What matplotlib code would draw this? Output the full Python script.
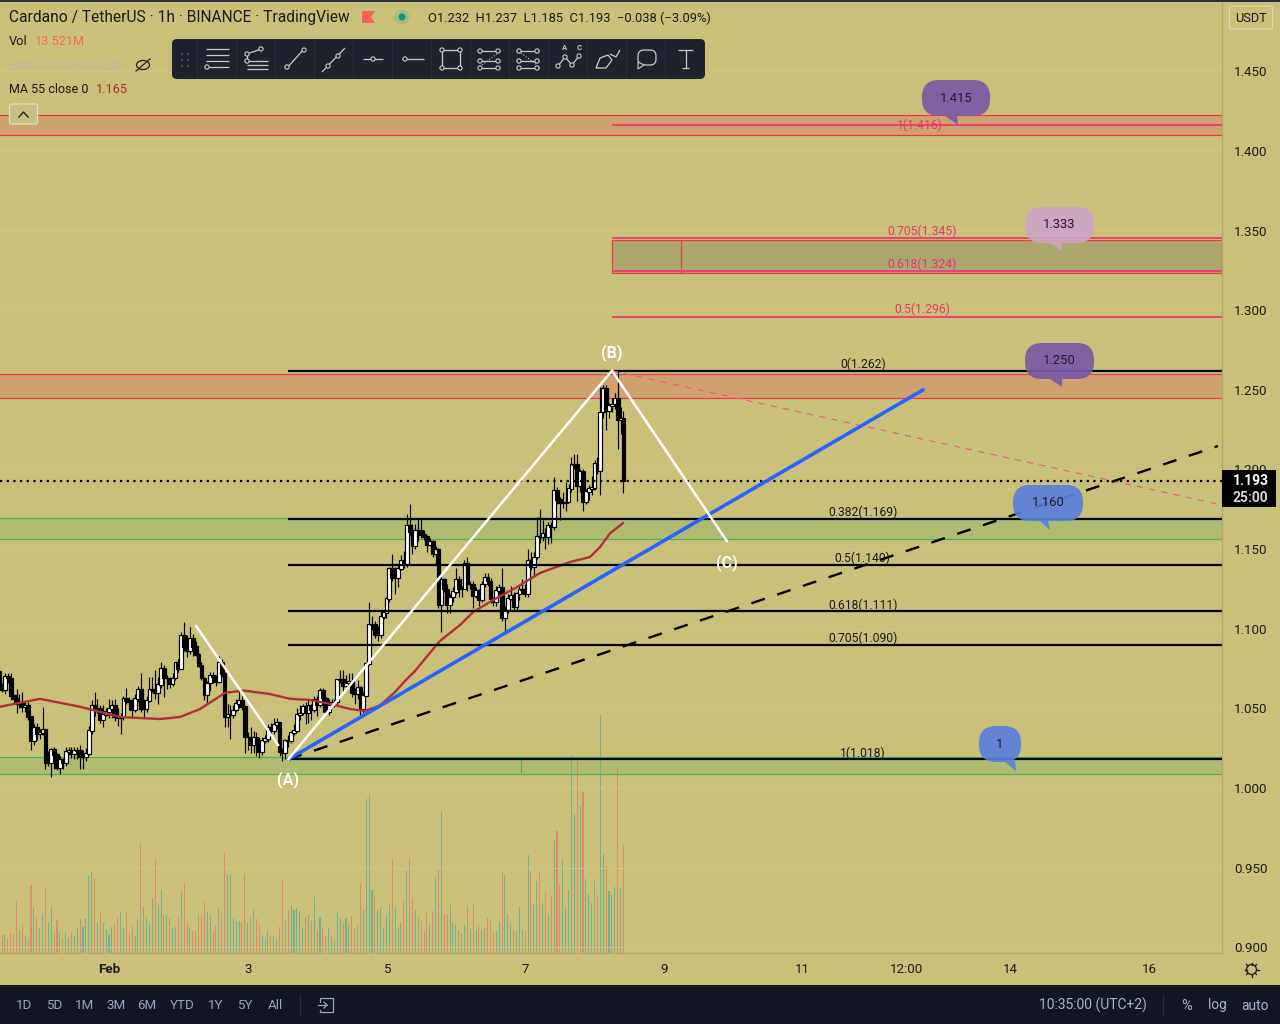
import matplotlib
matplotlib.use("Agg")
import matplotlib.pyplot as plt
import numpy as np
from matplotlib.patches import FancyBboxPatch, Rectangle, Polygon, Circle, Ellipse

plt.rcParams['font.family'] = ['Roboto', 'DejaVu Sans']

# ---------- data ----------
first_hour = -38            # hours from 1 Feb 00:00
first_open = 1.073
closes = [
 1.063,1.062,1.070,1.069,1.058,1.056,1.053,1.0535,1.051,1.052,
 1.045,1.030,1.038,1.034,1.035,1.037,1.016,1.016,1.024,1.021,
 1.013,1.018,1.016,1.023,1.0235,1.0215,1.0235,1.0235,1.0195,1.0195,
 1.0215,1.036,1.052,1.050,1.050,1.043,1.046,1.048,1.050,1.052,
 1.045,1.044,1.045,1.056,1.055,1.054,1.049,1.056,1.062,1.050,
 1.050,1.055,1.062,1.062,1.060,1.065,1.075,1.069,1.069,1.0655,
 1.069,1.079,1.075,1.096,1.089,1.086,1.094,1.089,1.084,1.077,
 1.069,1.0585,1.066,1.071,1.070,1.067,1.079,1.072,1.045,1.046,
 1.046,1.049,1.053,1.055,1.051,1.032,1.032,1.027,1.032,1.027,
 1.023,1.030,1.031,1.038,1.036,1.040,1.041,1.023,1.022,1.030,
 1.0295,1.035,1.036,1.046,1.047,1.051,1.047,1.052,1.049,1.0555,
 1.0525,1.0615,1.0565,1.048,1.052,1.054,1.054,1.068,1.068,1.064,
 1.066,1.067,1.060,1.059,1.063,1.050,1.058,1.078,1.1025,1.1025,
 1.096,1.096,1.1078,1.110,1.119,1.138,1.132,1.132,1.138,1.143,
 1.141,1.165,1.161,1.152,1.162,1.162,1.159,1.158,1.153,1.155,
 1.147,1.150,1.115,1.131,1.125,1.115,1.120,1.1235,1.131,1.125,
 1.125,1.141,1.128,1.128,1.121,1.124,1.118,1.128,1.132,1.130,
 1.119,1.117,1.124,1.126,1.107,1.112,1.119,1.121,1.114,1.122,
 1.1245,1.125,1.122,1.143,1.139,1.145,1.158,1.1575,1.160,1.158,
 1.165,1.164,1.187,1.181,1.179,1.179,1.1795,1.188,1.203,1.2035,
 1.190,1.199,1.180,1.186,1.188,1.1885,1.204,1.199,1.236,1.251,
 1.237,1.240,1.241,1.2447,1.231,1.232,1.193]
highs = [
 1.077,1.066,1.072,1.0725,1.072,1.059,1.062,1.059,1.060,1.054,
 1.054,1.045,1.040,1.041,1.037,1.051,1.037,1.023,1.025,1.026,
 1.022,1.020,1.019,1.026,1.026,1.026,1.026,1.026,1.027,1.024,
 1.025,1.039,1.055,1.060,1.056,1.052,1.052,1.050,1.056,1.055,
 1.056,1.050,1.047,1.058,1.063,1.057,1.056,1.059,1.064,1.072,
 1.056,1.058,1.070,1.070,1.074,1.070,1.079,1.077,1.071,1.070,
 1.072,1.079,1.081,1.098,1.104,1.096,1.101,1.097,1.092,1.085,
 1.079,1.070,1.067,1.073,1.073,1.071,1.083,1.081,1.073,1.053,
 1.052,1.052,1.056,1.062,1.058,1.052,1.035,1.038,1.036,1.035,
 1.032,1.032,1.033,1.040,1.041,1.044,1.044,1.041,1.025,1.031,
 1.033,1.036,1.040,1.050,1.052,1.053,1.054,1.056,1.053,1.058,
 1.058,1.063,1.063,1.057,1.056,1.056,1.056,1.068,1.074,1.074,
 1.071,1.072,1.072,1.063,1.068,1.064,1.060,1.079,1.117,1.108,
 1.105,1.102,1.111,1.112,1.120,1.139,1.147,1.139,1.140,1.146,
 1.149,1.172,1.178,1.166,1.166,1.169,1.169,1.162,1.159,1.157,
 1.156,1.152,1.151,1.133,1.132,1.128,1.122,1.126,1.138,1.133,
 1.127,1.143,1.145,1.130,1.130,1.126,1.125,1.130,1.135,1.135,
 1.132,1.120,1.127,1.128,1.138,1.114,1.122,1.127,1.123,1.123,
 1.127,1.131,1.128,1.150,1.148,1.148,1.170,1.175,1.168,1.163,
 1.167,1.167,1.195,1.189,1.183,1.186,1.192,1.191,1.208,1.210,
 1.210,1.200,1.200,1.188,1.190,1.196,1.206,1.208,1.252,1.253,
 1.253,1.242,1.245,1.248,1.262,1.239,1.237]
lows = [
 1.061,1.060,1.059,1.066,1.055,1.053,1.047,1.050,1.048,1.048,
 1.043,1.024,1.027,1.030,1.031,1.033,1.012,1.014,1.007,1.012,
 1.011,1.009,1.012,1.014,1.021,1.019,1.018,1.018,1.012,1.012,
 1.017,1.021,1.034,1.045,1.047,1.041,1.038,1.045,1.044,1.044,
 1.042,1.039,1.034,1.043,1.053,1.049,1.044,1.048,1.054,1.048,
 1.044,1.048,1.054,1.060,1.056,1.053,1.063,1.057,1.062,1.063,
 1.064,1.068,1.073,1.075,1.086,1.082,1.084,1.083,1.083,1.076,
 1.068,1.055,1.053,1.061,1.066,1.064,1.066,1.070,1.038,1.038,
 1.031,1.044,1.048,1.050,1.049,1.022,1.024,1.022,1.022,1.020,
 1.019,1.021,1.028,1.029,1.033,1.034,1.037,1.020,1.017,1.018,
 1.026,1.028,1.033,1.035,1.043,1.046,1.040,1.041,1.043,1.048,
 1.045,1.051,1.048,1.047,1.046,1.050,1.051,1.052,1.066,1.061,
 1.062,1.064,1.057,1.053,1.056,1.046,1.047,1.058,1.077,1.099,
 1.094,1.092,1.094,1.106,1.107,1.117,1.130,1.122,1.126,1.137,
 1.138,1.139,1.158,1.147,1.150,1.155,1.157,1.156,1.148,1.152,
 1.145,1.140,1.113,1.098,1.123,1.110,1.110,1.117,1.122,1.120,
 1.120,1.126,1.124,1.125,1.113,1.119,1.114,1.117,1.126,1.127,
 1.116,1.114,1.114,1.122,1.105,1.098,1.110,1.118,1.112,1.112,
 1.118,1.122,1.120,1.120,1.137,1.133,1.144,1.154,1.155,1.150,
 1.153,1.154,1.162,1.178,1.168,1.176,1.174,1.180,1.186,1.200,
 1.180,1.186,1.174,1.178,1.181,1.184,1.187,1.197,1.184,1.232,
 1.225,1.232,1.236,1.238,1.213,1.222,1.185]
volumes_m = [
 2.2,2.2,1.9,2.5,2.3,6.5,2.9,3.5,2.2,1.8,8.5,5.6,4.4,3.1,4.9,8.0,3.9,5.8,2.5,4.1,
 2.5,1.9,2.6,1.9,2.5,2.1,3.3,4.2,3.3,4.4,9.6,10.1,9.4,3.8,5.1,3.8,2.9,2.3,3.3,3.8,
 4.4,5.1,3.3,5.1,2.5,3.5,2.1,4.3,13.6,5.8,4.4,3.8,6.9,11.7,6.0,7.9,4.8,4.8,4.4,3.1,
 3.3,4.4,7.8,8.7,3.8,3.2,2.7,2.7,4.7,4.6,6.5,5.1,4.8,2.7,3.4,5.6,5.0,12.5,9.7,9.7,
 4.4,4.0,4.0,3.8,9.9,3.8,4.4,5.4,4.3,3.5,2.3,1.7,2.7,2.1,2.1,1.8,3.3,9.3,4.0,5.4,
 6.0,5.4,5.6,5.2,3.1,4.5,4.8,4.0,7.0,2.7,4.5,3.1,2.3,3.1,2.3,1.5,5.1,4.4,3.8,4.4,
 3.5,4.6,3.1,3.4,8.8,5.4,19.2,19.7,7.9,7.2,5.4,5.6,3.1,4.9,6.0,11.8,5.8,3.3,3.7,6.5,
 10.3,11.7,6.9,5.4,4.5,4.0,2.7,5.0,3.5,5.3,9.5,10.4,17.6,4.9,4.7,6.0,3.8,3.5,2.9,2.5,
 3.5,5.9,3.0,6.2,2.9,3.5,2.9,3.1,4.4,4.1,2.5,2.7,3.9,10.1,9.7,4.9,3.8,2.9,2.7,5.8,
 3.0,2.7,12.2,10.0,6.0,9.0,10.1,6.3,7.6,4.8,7.1,14.0,15.2,8.5,11.8,5.8,7.9,
 24.8,17.4,24.0,18.4,20.1,9.3,7.4,6.2,9.0,7.2,29.8,12.4,10.8,7.7,7.3,8.3,23.3,8.1,13.5]
ma_hours = [-37.7,-23.9,-10,3.8,17.6,24.6,31.5,40.1,46.4,55.7,62.6,69.6,76.5,83.4,88.6,93.8,
            99,102.4,105.9,111,114.5,121.5,126,132.9,141.2,149.1,159.5,166.4,169.9,173.4,177.9]
ma_values = [1.051,1.056,1.051,1.0446,1.0433,1.0446,1.0496,1.0597,1.0612,1.059,1.056,1.0553,1.0528,
             1.0496,1.0484,1.0518,1.0603,1.0672,1.0735,1.0848,1.0923,1.1024,1.1105,1.118,1.1262,
             1.135,1.1419,1.145,1.1513,1.160,1.1664]
price_ticks = [0.90,0.95,1.00,1.05,1.10,1.15,1.20,1.25,1.30,1.35,1.40,1.45]
time_ticks = [0,48,96,144,192,240,276,312,360]
time_labels = ['Feb','3','5','7','9','11','12:00','14','16']
fib_black = [(0,1.262),(0.382,1.169),(0.5,1.140),(0.618,1.111),(0.705,1.090),(1,1.018)]
fib_pink = [(0.5,1.296),(0.618,1.3246),(0.705,1.3453),(1,1.416)]
fib_pink_text = ['1.296','1.324','1.345','1.416']
hA, hB, hC = 62, 174, 213.8
pA, pB, pC = 1.018, 1.262, 1.155
last_price = 1.193

# ---------- colours ----------
BG = '#C9C17A'; DARK = '#131722'; TB = '#1E222D'
UP = '#6FB08E'; DOWN = '#E0866A'
RED = '#F23645'; PINK = '#EE3D78'; GREEN = '#4CAF50'

# ---------- layout ----------
W, H = 1280, 1024
fig = plt.figure(figsize=(W/100, H/100), dpi=100, facecolor=BG)
ax = fig.add_axes([0, (H-953)/H, 1222/W, 953/H], facecolor=BG)
ax.set_xlim(-37.72, 385.1)
ax.set_ylim(0.8964, 1.49476)

hours = first_hour + np.arange(len(closes))
c = np.array(closes); hi = np.array(highs); lo = np.array(lows)
o = np.r_[first_open, c[:-1]]
up = c >= o

# volume pane on the same x scale
axv = fig.add_axes(ax.get_position(), facecolor='none', sharex=ax)
axv.set_ylim(0, 119.1)
axv.axis('off')
vh = hours[-len(volumes_m):]
vu = up[-len(volumes_m):]
axv.bar(vh, volumes_m, width=0.36, color=[UP if u else DOWN for u in vu], linewidth=0)
axv.set_zorder(0); ax.set_zorder(1); ax.patch.set_visible(False)
axv.patch.set_visible(False)

# zones
for top, bot, col, edge in [(1.4226,1.410,'#DA685D',RED),(1.2600,1.2450,'#DA685D',RED),
                            (1.1696,1.1564,'#7FB063',GREEN),(1.0195,1.0088,'#7FB063',GREEN)]:
    ax.axhspan(bot, top, color=col, alpha=0.35, lw=0, zorder=1)
    ax.axhline(top, color=edge, lw=0.85, zorder=1.2)
    ax.axhline(bot, color=edge, lw=0.85, zorder=1.2)

# grid
for p in price_ticks:
    ax.axhline(p, color='#CDC685', lw=0.7, zorder=0.5)

# candles
ax.vlines(hours, lo, hi, color='black', lw=0.85, zorder=3)
ax.bar(hours, np.abs(c-o)+0.0004, bottom=np.minimum(o,c)-0.0002, width=1.3,
       color=['white' if u else 'black' for u in up], edgecolor='black', linewidth=0.85, zorder=3.2)

# MA
ax.plot(ma_hours, ma_values, color='#B0303C', lw=1.7, zorder=3.5, solid_capstyle='round')

# Fibonacci levels
for lev, val in fib_black:
    ax.plot([hA, 385.1], [val, val], color='black', lw=1.6, zorder=4, solid_capstyle='butt')
    ax.text(260.8, val-0.0003, f'{lev}({val:.3f})', ha='center', va='bottom', fontsize=8.7,
            color='#1a1a1a', zorder=5)
# fib box (drawn first, pink levels on top)
ax.add_patch(Rectangle((hB,1.3234),385.1-hB,0.0204,facecolor='#ACA76E',edgecolor=RED,lw=0.85,zorder=2))
ax.plot([198,198],[1.3234,1.3438],color=RED,lw=0.85,zorder=2.5)
ax.plot([142.5,142.5],[1.0100,1.0195],color=GREEN,lw=0.8,zorder=2.5)
for (lev, val), label in zip(fib_pink, fib_pink_text):
    ax.plot([hB, 385.1], [val, val], color=PINK, lw=1.35, zorder=4, solid_capstyle='butt')
    x_txt, dy = (280.5, -0.0042) if lev == 1 else (281.3, 0.0003)
    ax.text(x_txt, val+dy, f'{lev}({label})', ha='center', va='bottom', fontsize=8.7,
            color='#E5356E', zorder=5)

# trend lines
ax.plot([hB, 385.1], [pB, 1.1777], color='#EE5A86', lw=0.9, ls=(0,(5,5)), zorder=4.5)
ax.plot([hA, hB], [pA, pB], color='#EE5A86', lw=0.9, ls=(0,(5,5)), zorder=4.2)
ax.plot([hA, 383.7], [pA, 1.2147], color='black', lw=1.7, ls=(0,(6,5.5)), zorder=4.5)
ax.plot([hA, 281.7], [pA, 1.250], color='#2962FF', lw=2.6, zorder=4.6, solid_capstyle='round')
ax.plot([hA, hB, hC], [pA, pB, pC], color='white', lw=1.8, zorder=5, solid_joinstyle='miter')
ax.plot([30.1, 58.5], [1.1017, 1.027], color='white', lw=1.8, zorder=5)
ax.axhline(last_price, color='black', lw=1.6, ls=(0,(1,2)), zorder=4)

for txt, x, y in [('(A)', hA, 1.0053), ('(B)', hB, 1.2735), ('(C)', hC, 1.1413)]:
    ax.text(x, y, txt, color='white', ha='center', va='center', fontsize=11.5, fontweight='bold', zorder=6)

# axes
ax.yaxis.tick_right()
ax.set_yticks(price_ticks)
ax.set_yticklabels([f'{p:.3f}' for p in price_ticks], fontsize=9.6, color='#1d1d1d')
ax.set_xticks(time_ticks)
ax.set_xticklabels(time_labels, fontsize=9.6, color='#1d1d1d')
ax.get_xticklabels()[0].set_fontweight('bold')
ax.tick_params(axis='y', length=0, pad=8.5)
ax.tick_params(axis='x', length=0, pad=7.5)
for s in ['top', 'left']:
    ax.spines[s].set_visible(False)
for s in ['right', 'bottom']:
    ax.spines[s].set_color('#B0A96A'); ax.spines[s].set_linewidth(1.0)

# ---------- overlay in pixel coordinates ----------
ui = fig.add_axes([0, 0, 1, 1], facecolor='none', zorder=10)
ui.set_xlim(0, W); ui.set_ylim(H, 0); ui.axis('off')

def T(x, y, s, size=9.8, color='#1a1a1a', ha='left', va='center', **kw):
    return ui.text(x, y, s, fontsize=size, color=color, ha=ha, va=va, **kw)

ui.add_patch(Rectangle((0,985),W,39,facecolor=DARK,edgecolor='none'))
ui.add_patch(Rectangle((0,0),W,1.5,facecolor='#2A3040',edgecolor='none'))

# bubbles (slightly see-through, as lines show through them)
for x0,x1,y0,y1,col,txt,tail in [
    (922,990,80,116,'#7A5AA6','1.415',[(945,116),(958,125),(957,116)]),
    (1025,1094,207,243,'#CFA3C5','1.333',[(1050,243),(1062,251),(1062,243)]),
    (1025,1094,343,379,'#7A5AA6','1.250',[(1050,379),(1062,387),(1062,379)]),
    (1013,1083,485,521,'#5A7FDC','1.160',[(1040,521),(1050,530),(1048,521)]),
    (979,1021,726,762,'#5A7FDC','1',[(1005,762),(1016,771),(1015,760)])]:
    r = 15
    ui.add_patch(FancyBboxPatch((x0+r,y0+r),x1-x0-2*r,y1-y0-2*r,boxstyle=f'round,pad={r},rounding_size={r+2}',
                                facecolor=col,edgecolor='none',alpha=0.92))
    ui.add_patch(Polygon(tail,closed=True,facecolor=col,edgecolor='none',alpha=0.92))
    T((x0+x1)/2, (y0+y1)/2, txt, size=9.4, color='#1b1b2a', ha='center')

# header
T(9, 17.5, 'Cardano / TetherUS \u00b7 1h \u00b7 BINANCE \u00b7 TradingView', size=11.2)
ui.add_patch(Polygon([(362,11),(375,11),(371,17),(375,23),(362,23)],closed=True,facecolor='#F7615A',edgecolor='none'))
ui.add_patch(Circle((402,17),7.5,facecolor='#A8BC82',edgecolor='none'))
ui.add_patch(Circle((402,17),3.5,facecolor='#089981',edgecolor='none'))
T(428, 18, 'O1.232  H1.237  L1.185  C1.193  \u22120.038 (\u22123.09%)', size=9.3)
T(9, 41.5, 'Vol', size=9.2)
T(35, 41.5, '13.521M', size=9.2, color='#F7665A')
T(9, 65.5, 'EMA 20/50/100/200', size=8.8, color='#B9B9A5')
ui.plot([136,150],[71,59],color='#222',lw=0.9)
ui.add_patch(Ellipse((143,65),13,9,facecolor='none',edgecolor='#222',lw=0.9))
T(9, 89.5, 'MA 55 close 0', size=9.0)
T(96, 89.5, '1.165', size=9.2, color='#B22833')
ui.add_patch(FancyBboxPatch((9.5,104),28,20,boxstyle='round,pad=0,rounding_size=2',facecolor='#C6BE85',edgecolor='#E6E2BE',lw=0.8))
ui.plot([19,23.5,28],[117,112,117],color='#222',lw=1)

# toolbar
ui.add_patch(FancyBboxPatch((172,39),533,40,boxstyle='round,pad=0,rounding_size=5',facecolor=TB,edgecolor='none'))
for xs in range(197,666,39):
    ui.plot([xs,xs],[40,78],color='#2A2E39',lw=0.8)
for dx in (181,187):
    for dy in (53,59,65):
        ui.add_patch(Rectangle((dx,dy),2,2,facecolor='#4A4F5C',edgecolor='none'))
IC = '#C9CBD0'
def L(xs, ys, lw=0.9, ls='-'):
    ui.plot(xs, ys, color=IC, lw=lw, ls=ls, solid_capstyle='butt')
def D(x, y, r=2.1):
    ui.add_patch(Circle((x,y),r,facecolor=TB,edgecolor=IC,lw=0.8,zorder=12))
for y in (49,55,61,67): L([206,229],[y,y])
D(207,67)
for y in (61,65,69): L([247,268],[y,y])
L([247,261],[54,49]); L([247,247],[54,62]); D(247,54); D(261,49); D(247,61)
L([287,304],[68,49]); D(287,67); D(304,50)
L([322,345],[72,48]); D(328,66); D(338,56)
L([363,383],[59,59]); D(373,59)
L([402,424],[59,59]); D(405,59)
ui.add_patch(Rectangle((442,50),18,18,facecolor='none',edgecolor=IC,lw=0.9,zorder=11))
for a,b in [(442,50),(460,50),(442,68),(460,68)]: D(a,b)
for xo in (478,517):
    for y in (51,61,68): L([xo,xo+22],[y,y])
    L([xo+4,xo+20],[65,53] if xo==478 else [53,65],lw=0.8,ls=':')
    D(xo+2,51); D(xo+2,61); D(xo+20,61); D(xo+2,68); D(xo+20,68); D(xo+20,51)
L([558,565,572,579],[66,57,65,56]); D(558,66); D(565,57); D(572,65); D(579,56)
T(565,47,'A',size=5.5,color=IC,ha='center',fontweight='bold'); T(579,47,'C',size=5.5,color=IC,ha='center',fontweight='bold')
L([596,600,608,612,606,596],[68,58,55,60,68,68]); L([610,616,620],[54,57,50])
ui.add_patch(FancyBboxPatch((638,50),18,15,boxstyle='round,pad=0,rounding_size=6',facecolor='none',edgecolor=IC,lw=0.9,zorder=11))
ui.add_patch(Polygon([(638,62),(638,69),(644,65)],closed=True,facecolor=TB,edgecolor=IC,lw=0.8,zorder=12))
L([678,693],[50,50]); L([685.5,685.5],[50,68]); L([682,689],[68,68])

# price axis widgets
ui.add_patch(FancyBboxPatch((1229.5,6),43,23,boxstyle='round,pad=0,rounding_size=2',facecolor=BG,edgecolor='#DEDAB8',lw=0.8))
T(1251, 18, 'USDT', size=9.2, ha='center')
ui.add_patch(Rectangle((1222,470),54,37,facecolor='black',edgecolor='none'))
T(1250.5, 481, '1.193', size=10, color='white', ha='center', fontweight='bold')
T(1250.5, 497.5, '25:00', size=10, color='#D6D6C8', ha='center', fontweight='bold')
ui.add_patch(Circle((1251.5,969.5),5,facecolor='none',edgecolor='#222',lw=1))
for a in np.arange(0,360,45):
    ca,sa = np.cos(np.radians(a)),np.sin(np.radians(a))
    ui.plot([1251.5+5*ca,1251.5+7*ca],[969.5+5*sa,969.5+7*sa],color='#222',lw=1)

# bottom bar
BC = '#9AA5BD'
for x,s in [(24,'1D'),(54,'5D'),(85,'1M'),(116,'3M'),(147,'6M'),(182,'YTD'),(216,'1Y'),(245,'5Y'),(275,'All')]:
    T(x, 1005.5, s, size=9.6, color=BC, ha='center')
ui.plot([300,300],[994,1016],color='#2A2E39',lw=0.9)
ui.add_patch(Rectangle((320,998),13,14,facecolor='none',edgecolor=BC,lw=0.9))
ui.add_patch(Rectangle((317,1003),8,7,facecolor=DARK,edgecolor='none',zorder=11))
ui.plot([318,327],[1005,1005],color=BC,lw=0.9,zorder=12); ui.plot([324,327,324],[1002,1005,1008],color=BC,lw=0.9,zorder=12)
T(1092.5, 1005.5, '10:35:00 (UTC+2)', size=10, color='#A8B3CC', ha='center')
ui.plot([1163,1163],[994,1016],color='#2A2E39',lw=0.9)
T(1187, 1005.5, '%', size=10.6, color='#A8B3CC', ha='center')
T(1217, 1005.5, 'log', size=10, color='#A8B3CC', ha='center')
T(1255, 1005.5, 'auto', size=10, color='#A8B3CC', ha='center')

fig.savefig('out.png', dpi=100, facecolor=BG)
